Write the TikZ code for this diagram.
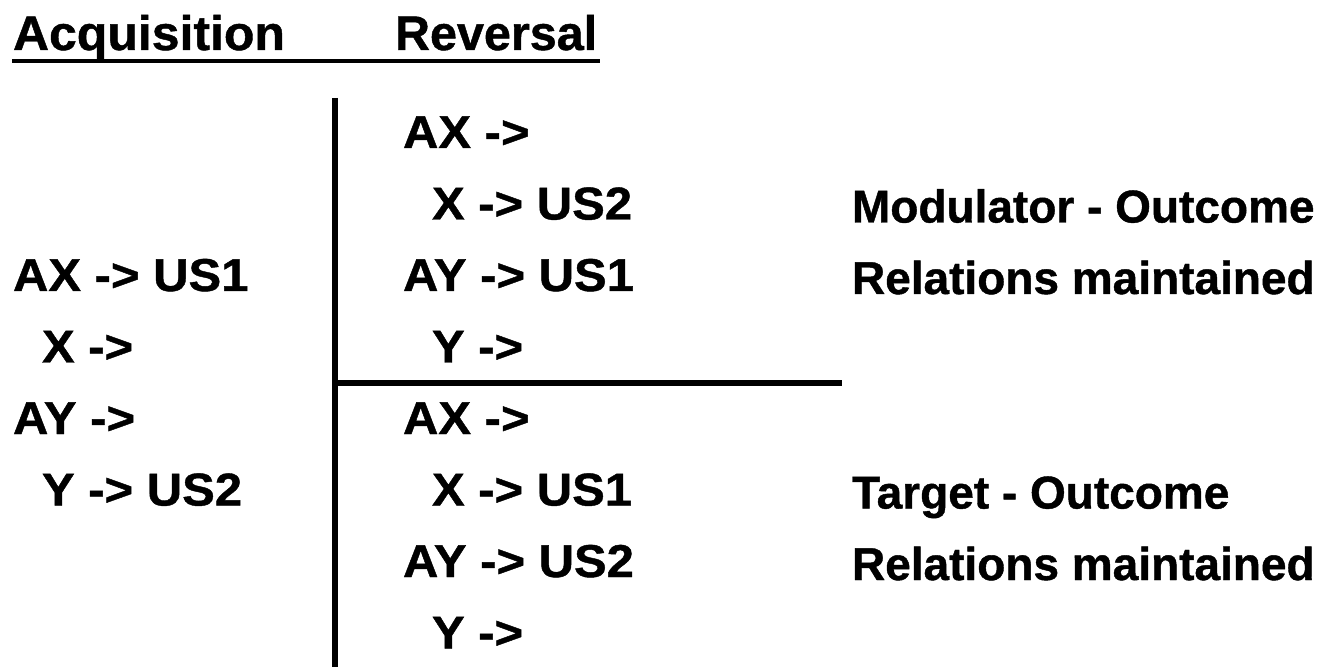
\documentclass[tikz,border=0pt]{standalone}
\usepackage{fontspec}
\setmainfont{Liberation Sans}[BoldFeatures={FakeBold=0.9}]
\usetikzlibrary{calc}
\begin{document}
\begin{tikzpicture}[x=1pt,y=1pt,
  txt/.style={anchor=base west,inner sep=0pt,outer sep=0pt,font=\bfseries\fontsize{46}{46}\selectfont},
  hdr/.style={anchor=base west,inner sep=0pt,outer sep=0pt,font=\bfseries\fontsize{48.5}{48.5}\selectfont},
  rule/.style={line width=6pt,black}]
\useasboundingbox (0,0) rectangle (1329,667);
% header
\node[hdr] (acq) at (13,617) {\scalebox{1.03}[1]{Acquisition}};
\node[hdr] (rev) at (395,617) {Reversal};
\draw[line width=4pt] ($(acq.base west)+(-1,-11.5)$) -- ($(rev.base east)+(3,-11.5)$);
% lines
\coordinate (vtop) at (335,569);
\coordinate (vbot) at (335,0);
\coordinate (hmid) at (335,284);
\coordinate (hend) at (842,284);
\draw[rule] (vtop) -- (vbot);
\draw[rule] (hmid) -- (hend);
% left column
\node[txt] (l1) at (13,376) {\scalebox{1.065}[1]{AX -> US1}};
\node[txt] (l2) at (42,304.5) {\scalebox{1.065}[1]{X ->}};
\node[txt] (l3) at (13,233) {\scalebox{1.065}[1]{AY ->}};
\node[txt] (l4) at (42,161.5) {\scalebox{1.065}[1]{Y -> US2}};
% middle column upper
\node[txt] (m1) at (403,519) {\scalebox{1.065}[1]{AX ->}};
\node[txt] (m2) at (432,447.5) {\scalebox{1.065}[1]{X -> US2}};
\node[txt] (m3) at (403,376) {\scalebox{1.065}[1]{AY -> US1}};
\node[txt] (m4) at (432,304.5) {\scalebox{1.065}[1]{Y ->}};
% middle column lower
\node[txt] (m5) at (403,233) {\scalebox{1.065}[1]{AX ->}};
\node[txt] (m6) at (432,161.5) {\scalebox{1.065}[1]{X -> US1}};
\node[txt] (m7) at (403,90) {\scalebox{1.065}[1]{AY -> US2}};
\node[txt] (m8) at (432,18.5) {\scalebox{1.065}[1]{Y ->}};
% notes
\node[txt] (n1) at (852,444.5) {Modulator - Outcome};
\node[txt] (n2) at (852,373) {Relations maintained};
\node[txt] (n3) at (852,158.5) {Target - Outcome};
\node[txt] (n4) at (852,87) {Relations maintained};
\end{tikzpicture}
\end{document}
